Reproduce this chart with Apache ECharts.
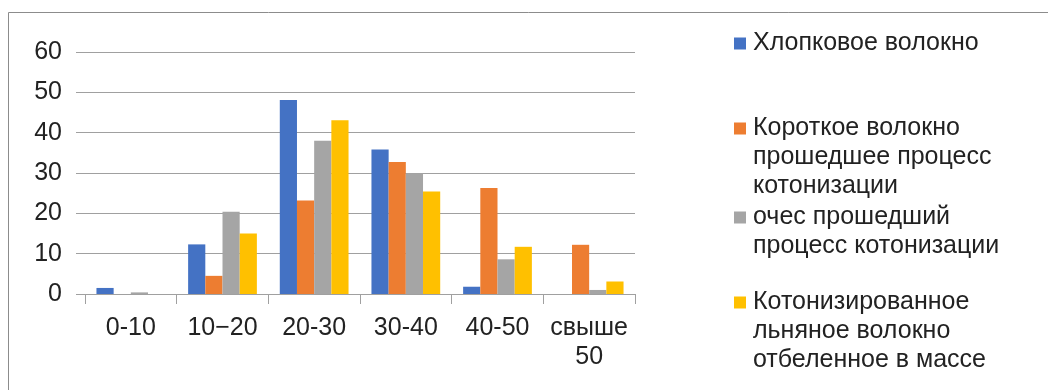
<!DOCTYPE html>
<html>
<head>
<meta charset="utf-8">
<script src="https://cdn.jsdelivr.net/npm/echarts@6/dist/echarts.min.js"></script>
<style>html,body{margin:0;padding:0;background:#fff;}#c{width:1048px;height:390px;}</style>
</head>
<body>
<div id="c"></div>
<script>
const categories = ['0-10', '10\u221220', '20-30', '30-40', '40-50', 'свыше\n50'];
const cotton = [1.5, 12.3, 48.1, 35.8, 1.8, 0];
const shortFiber = [0, 4.5, 23.2, 32.7, 26.3, 12.2];
const tow = [0.4, 20.4, 38.0, 29.9, 8.6, 1.0];
const cottonized = [0, 15.0, 43.1, 25.4, 11.7, 3.1];
const yTicks = [0, 10, 20, 30, 40, 50, 60];

const seriesLines = [
  ['Хлопковое волокно'],
  ['Короткое волокно', 'прошедшее процесс', 'котонизации'],
  ['очес прошедший', 'процесс котонизации'],
  ['Котонизированное', 'льняное волокно', 'отбеленное в массе']
];
const seriesData = [cotton, shortFiber, tow, cottonized];
const colors = ['#4472C4', '#ED7D31', '#A5A5A5', '#FFC000'];
const legendTops = [31, 116, 205, 290];

const names = seriesLines.map(l => l.join(' '));
const FONT = '"Liberation Sans", Arial, sans-serif';

const chart = echarts.init(document.getElementById('c'));
chart.setOption({
  animation: false,
  backgroundColor: '#fff',
  color: colors,
  graphic: [{
    type: 'rect', silent: true,
    shape: { x: 8.5, y: 12.5, width: 1100, height: 500 },
    style: { fill: 'none', stroke: '#8c8c8c', lineWidth: 1 }
  }],
  grid: { left: 85, right: 413, top: 52, bottom: 96 },
  xAxis: {
    type: 'category',
    data: categories,
    axisLine: { lineStyle: { color: '#a0a0a0', width: 1 } },
    axisTick: { show: true, length: 10, alignWithLabel: false, lineStyle: { color: '#a0a0a0' } },
    axisLabel: {
      interval: 0, margin: 20, color: '#222', fontSize: 25, lineHeight: 29,
      fontFamily: FONT, align: 'center'
    }
  },
  yAxis: {
    type: 'value', min: yTicks[0], max: yTicks[yTicks.length - 1], interval: 10,
    axisLine: { show: false },
    axisTick: { show: true, length: 9, lineStyle: { color: '#a0a0a0' } },
    splitLine: { lineStyle: { color: '#a0a0a0', width: 1 } },
    axisLabel: { margin: 23, color: '#222', fontSize: 25, fontFamily: FONT }
  },
  legend: seriesLines.map((lines, i) => ({
    data: [names[i]],
    orient: 'vertical',
    left: 729,
    top: legendTops[i],
    padding: 0,
    itemWidth: 0,
    itemHeight: 0,
    selectedMode: false,
    formatter: () => lines.map((ln, k) => (k === 0 ? '{m|}{s|}' : '{i|}') + '{t|' + ln + '}').join('\n'),
    textStyle: {
      fontFamily: FONT, fontSize: 25, color: '#222',
      rich: {
        m: { width: 12, height: 12, backgroundColor: colors[i], verticalAlign: 'middle' },
        s: { width: 7, lineHeight: 29 },
        i: { width: 19, lineHeight: 29 },
        t: { fontFamily: FONT, fontSize: 25, color: '#222', lineHeight: 29 }
      }
    }
  })),
  series: seriesData.map((d, i) => ({
    type: 'bar',
    name: names[i],
    data: d,
    barGap: '0%',
    barCategoryGap: '25%',
    itemStyle: { color: colors[i] }
  }))
});
</script>
</body>
</html>
